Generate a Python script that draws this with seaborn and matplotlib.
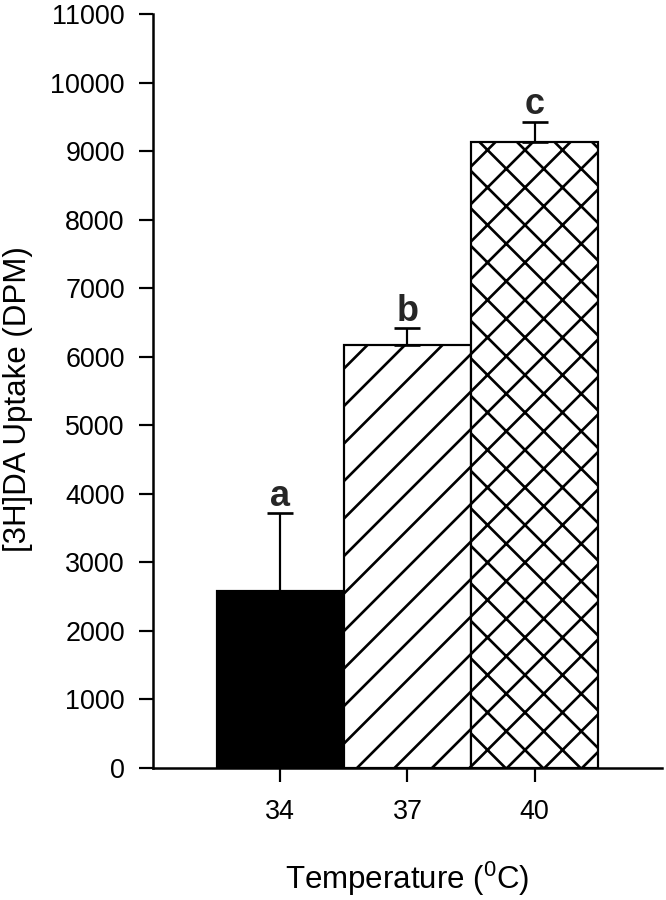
"""Dopamine uptake vs incubation temperature bar chart."""

import matplotlib.pyplot as plt
import numpy as np
import seaborn as sns

sns.set_theme(style="ticks")
plt.rcParams["font.family"] = ["Liberation Sans", "DejaVu Sans"]
plt.rcParams["hatch.linewidth"] = 0.85
plt.rcParams["hatch.color"] = "black"

temps = ["34", "37", "40"]
uptake = [2590, 6180, 9140]
sem = [1130, 240, 290]
letters = ["a", "b", "c"]
fills = ["black", "white", "white"]
hatches = ["", "//", "xx"]

DPI = 225
fig = plt.figure(figsize=(666 / DPI, 900 / DPI), dpi=DPI)
ax = fig.add_axes([0.2297, 0.1467, 0.994 - 0.2297, 0.9841 - 0.1467])

sns.barplot(x=temps, y=uptake, hue=temps, palette=fills, width=1.0,
            edgecolor="black", linewidth=0.7, legend=False, ax=ax)
for bar, h in zip(ax.patches, hatches):
    bar.set_hatch(h)
    bar.set_edgecolor("black")

pos = np.arange(len(temps))
ax.errorbar(pos, uptake, yerr=[np.zeros(len(sem)), sem], fmt="none",
            ecolor="black", elinewidth=0.7, capsize=4.3, capthick=0.85, zorder=3)

for x, top, lab in zip(pos, np.add(uptake, sem), letters):
    ax.annotate(lab, (x, top), xytext=(0, 2.4), textcoords="offset points",
                ha="center", va="baseline", fontsize=11.5, fontweight="bold")

ax.set_xlim(-1, 3)
ax.set_ylim(0, 11000)
ax.set_yticks(np.arange(0, 11001, 1000))
sns.despine(ax=ax)
for side in ["left", "bottom"]:
    ax.spines[side].set_linewidth(0.8)
    ax.spines[side].set_color("black")
ax.tick_params(axis="both", length=4.5, width=0.7, color="black",
               labelsize=8.6, labelcolor="black")
ax.tick_params(axis="y", pad=4.5)
ax.tick_params(axis="x", pad=5.5)

ax.set_xlabel("Temperature ($\\mathregular{^0}$C)", fontsize=10, color="black")
ax.set_ylabel("[3H]DA Uptake (DPM)", fontsize=10, color="black")
ax.xaxis.set_label_coords(0.5, -0.122)
ax.yaxis.set_label_coords(-0.236, 0.489)

fig.savefig("out.png", dpi=DPI, facecolor="white")
